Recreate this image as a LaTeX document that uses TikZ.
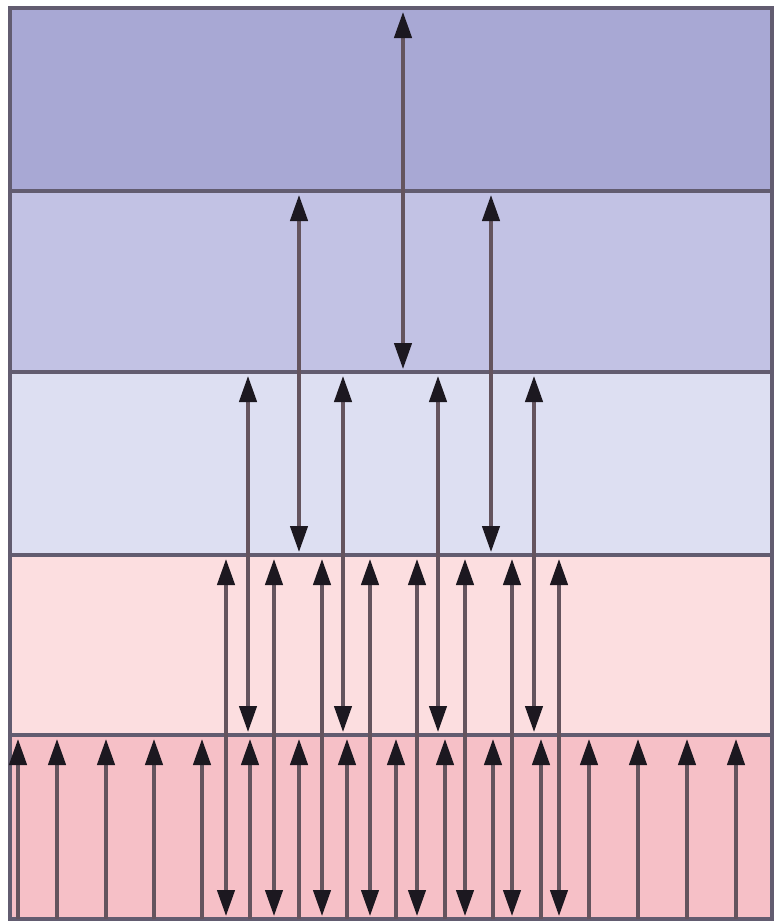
\documentclass[tikz,border=0pt]{standalone}
\usetikzlibrary{arrows.meta}
\definecolor{bandA}{RGB}{168,168,212}
\definecolor{bandB}{RGB}{194,194,228}
\definecolor{bandC}{RGB}{221,223,242}
\definecolor{bandD}{RGB}{252,222,224}
\definecolor{bandE}{RGB}{246,192,199}
\definecolor{edgec}{RGB}{98,92,112}
\definecolor{shaftc}{RGB}{100,84,94}
\definecolor{tipc}{RGB}{28,24,32}
\begin{document}
\begin{tikzpicture}[x=0.03cm,y=-0.03cm,
  layer/.style={draw=edgec,line width=3.6pt},
  link/.style={draw=shaftc,line width=2.9pt},
  >={Triangle[length=0.78cm,width=0.52cm,color=tipc]}]
\useasboundingbox (0,0) rectangle (777,923);
\fill[white] (0,0) rectangle (777,923);
% layers
\path[layer,fill=bandA] (10,8) rectangle (772,191);
\path[layer,fill=bandB] (10,191) rectangle (772,372);
\path[layer,fill=bandC] (10,372) rectangle (772,555);
\path[layer,fill=bandD] (10,555) rectangle (772,735);
\path[layer,fill=bandE] (10,735) rectangle (772,919);
% level 1
\coordinate (L1t1) at (403,12);
\coordinate (L1b1) at (403,369);
\draw[link,<->] (L1t1) -- (L1b1);
% level 2
\foreach \x [count=\i] in {299,491}{
  \coordinate (L2t\i) at (\x,195);
  \coordinate (L2b\i) at (\x,552);
  \draw[link,<->] (L2t\i) -- (L2b\i);
}
% level 3
\foreach \x [count=\i] in {248,343,438,534}{
  \coordinate (L3t\i) at (\x,376);
  \coordinate (L3b\i) at (\x,732);
  \draw[link,<->] (L3t\i) -- (L3b\i);
}
% level 4
\foreach \x [count=\i] in {226,274,322,370,417,465,512,559}{
  \coordinate (L4t\i) at (\x,559);
  \coordinate (L4b\i) at (\x,916);
  \draw[link,<->] (L4t\i) -- (L4b\i);
}
% level 5
\foreach \x [count=\i] in {18,57,106,154,202,250,299,347,396,445,493,541,589,638,687,736}{
  \coordinate (L5t\i) at (\x,739);
  \coordinate (L5b\i) at (\x,919);
  \draw[link,->] (L5b\i) -- (L5t\i);
}
\end{tikzpicture}
\end{document}
